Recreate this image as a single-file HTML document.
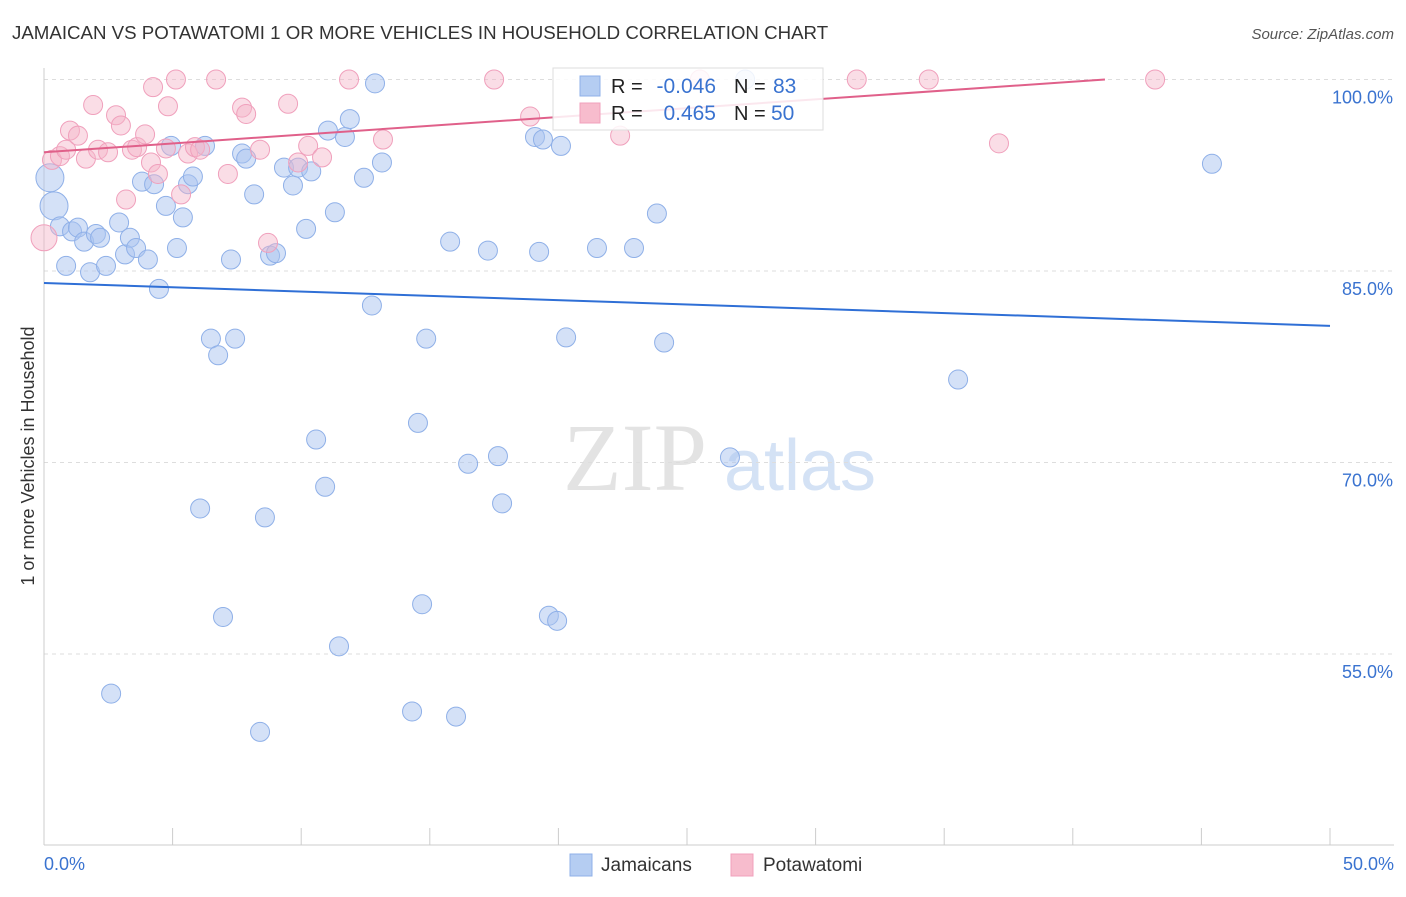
<!DOCTYPE html>
<html><head><meta charset="utf-8"><style>
body{margin:0;background:#fff;font-family:"Liberation Sans",sans-serif}
</style></head><body>
<svg id="chart" width="1406" height="892" xmlns="http://www.w3.org/2000/svg">
<text x="12" y="39" font-size="18.7" fill="#333">JAMAICAN VS POTAWATOMI 1 OR MORE VEHICLES IN HOUSEHOLD CORRELATION CHART</text>
<text x="1394" y="39" font-size="15" fill="#555" font-style="italic" text-anchor="end">Source: ZipAtlas.com</text>
<text x="0" y="0" transform="translate(34,456) rotate(-90)" font-size="18" fill="#333" text-anchor="middle">1 or more Vehicles in Household</text>
<g><text x="635" y="490" font-size="96" fill="#e3e3e3" font-family="Liberation Serif" text-anchor="middle">ZIP</text><text x="800" y="490" font-size="72" fill="#d4e2f5" text-anchor="middle">atlas</text></g>
<g id="grid"></g><g id="axes"></g><g id="marks"></g>
<g>
<rect x="553" y="68" width="270" height="62" fill="#fff" fill-opacity="0.85" stroke="#ddd"/>
<rect x="580" y="76" width="20" height="20" fill="#b5cdf2" stroke="#8fb0e8"/>
<rect x="580" y="103" width="20" height="20" fill="#f7bccd" stroke="#f0a0bc"/>
<text x="611" y="93" font-size="20" fill="#222">R =</text>
<text x="716" y="93" font-size="21" fill="#3a73d0" text-anchor="end">-0.046</text>
<text x="734" y="93" font-size="20" fill="#222">N =</text>
<text x="773" y="93" font-size="21" fill="#3a73d0">83</text>
<text x="611" y="120" font-size="20" fill="#222">R =</text>
<text x="716" y="120" font-size="21" fill="#3a73d0" text-anchor="end">0.465</text>
<text x="734" y="120" font-size="20" fill="#222">N =</text>
<text x="771" y="120" font-size="21" fill="#3a73d0">50</text>
</g>
<g>
<rect x="570" y="854" width="22" height="22" fill="#b5cdf2" stroke="#8fb0e8"/>
<text x="601" y="871" font-size="19" fill="#333">Jamaicans</text>
<rect x="731" y="854" width="22" height="22" fill="#f7bccd" stroke="#f0a0bc"/>
<text x="763" y="871" font-size="19" fill="#333">Potawatomi</text>
</g>
</svg>
<script>
const yTicks=[100,85,70,55];
const yTickLabels=["100.0%","85.0%","70.0%","55.0%"];
const blueX=[0.23,0.39,0.62,0.86,1.09,1.32,1.56,1.79,2.02,2.18,2.41,2.61,2.92,3.15,3.34,3.58,3.81,4.04,4.28,4.47,4.74,4.94,5.17,5.40,5.60,5.79,6.07,6.26,6.49,6.77,6.96,7.27,7.43,7.70,7.86,8.17,8.40,8.59,8.79,9.02,9.33,9.68,9.88,10.19,10.39,10.58,10.93,11.04,11.31,11.47,11.70,11.89,12.44,12.75,12.87,13.14,14.31,14.54,14.70,14.86,15.79,16.02,16.49,17.26,17.65,17.81,19.09,19.25,19.40,19.63,19.95,20.10,20.30,21.50,22.94,23.83,24.11,26.67,27.26,35.54,45.41];
const blueY=[92.3,90.1,88.5,85.4,88.1,88.4,87.3,84.9,87.9,87.6,85.4,51.9,88.8,86.3,87.6,86.8,92.0,85.9,91.8,83.6,90.1,94.8,86.8,89.2,91.8,92.4,66.4,94.8,79.7,78.4,57.9,85.9,79.7,94.2,93.8,91.0,48.9,65.7,86.2,86.4,93.1,91.7,93.1,88.3,92.8,71.8,68.1,96.0,89.6,55.6,95.5,96.9,92.3,82.3,99.7,93.5,50.5,73.1,58.9,79.7,87.3,50.1,69.9,86.6,70.5,66.8,95.5,86.5,95.3,58.0,57.6,94.8,79.8,86.8,86.8,89.5,79.4,70.4,100,76.5,93.4];
const pinkX=[0,0.31,0.62,0.86,1.01,1.32,1.63,1.91,2.10,2.49,2.80,2.99,3.19,3.42,3.62,3.93,4.16,4.24,4.43,4.82,4.74,5.13,5.33,5.60,5.87,6.07,6.69,7.15,7.70,7.86,8.40,8.71,9.49,9.88,10.27,10.81,11.86,13.18,17.50,18.90,22.40,25.5,31.6,34.4,37.13,43.2];
const pinkY=[87.6,93.7,94.0,94.5,96.0,95.6,93.8,98.0,94.5,94.3,97.2,96.4,90.6,94.5,94.7,95.7,93.5,99.4,92.6,97.9,94.6,100,91.0,94.2,94.7,94.5,100,92.6,97.8,97.3,94.5,87.2,98.1,93.5,94.8,93.9,100,95.3,100,97.1,95.6,100,100,100,95.0,100];
const blueTrend=[84.06,80.7];
const pinkTrend=[94.3,100];
const pinkTrendEndX=41.25;
const NS="http://www.w3.org/2000/svg";
const X=v=>44+v/50*1286, Y=v=>79.5+(100-v)*12.767;
function mk(t,a,p){const e=document.createElementNS(NS,t);for(const k in a)e.setAttribute(k,a[k]);p.appendChild(e);return e;}
const grid=document.getElementById('grid'),axes=document.getElementById('axes'),marks=document.getElementById('marks');
yTicks.forEach((t,i)=>{
 const l=mk('line',{x1:44,x2:1394,y1:Y(t),y2:Y(t),stroke:'#ddd','stroke-dasharray':'4,4'},grid);
 
 
 const tx=mk('text',{x:1393,y:Y(t)+24,'font-size':18,fill:'#3a73d0','text-anchor':'end'},grid);
 tx.textContent=yTickLabels[i];
 
 
});
const ax=mk('line',{x1:44,x2:44,y1:68,y2:845,stroke:'#ccc'},axes);


const bx=mk('line',{x1:44,x2:1394,y1:845,y2:845,stroke:'#ccc'},axes);


for(let i=0;i<=10;i++){const t=mk('line',{x1:X(i*5),x2:X(i*5),y1:828,y2:845,stroke:'#ccc'},axes);
 
 }
[["0.0%",44,'start'],["50.0%",1394,'end']].forEach(d=>{const t=mk('text',{x:d[1],y:870,'font-size':18,fill:'#3a73d0','text-anchor':d[2]},axes);t.textContent=d[0];
 
 });
blueX.forEach((x,i)=>{const r=(i<2)?14:9.5;const c=mk('circle',{cx:X(x),cy:Y(blueY[i]),r:r,fill:'#a9c4ef','fill-opacity':0.5,stroke:'#8fb0e8','stroke-width':1},marks);
 
 });
pinkX.forEach((x,i)=>{const r=(i==0)?13:9.5;const c=mk('circle',{cx:X(x),cy:Y(pinkY[i]),r:r,fill:'#f5b3c8','fill-opacity':0.45,stroke:'#f0a0bc','stroke-width':1},marks);
 
 });
const bl=mk('line',{x1:X(0),y1:Y(blueTrend[0]),x2:X(50),y2:Y(blueTrend[1]),stroke:'#2f6fd6','stroke-width':2},marks);


const pl=mk('line',{x1:X(0),y1:Y(pinkTrend[0]),x2:X(pinkTrendEndX),y2:Y(pinkTrend[1]),stroke:'#e0608a','stroke-width':2},marks);


</script>
</body></html>
